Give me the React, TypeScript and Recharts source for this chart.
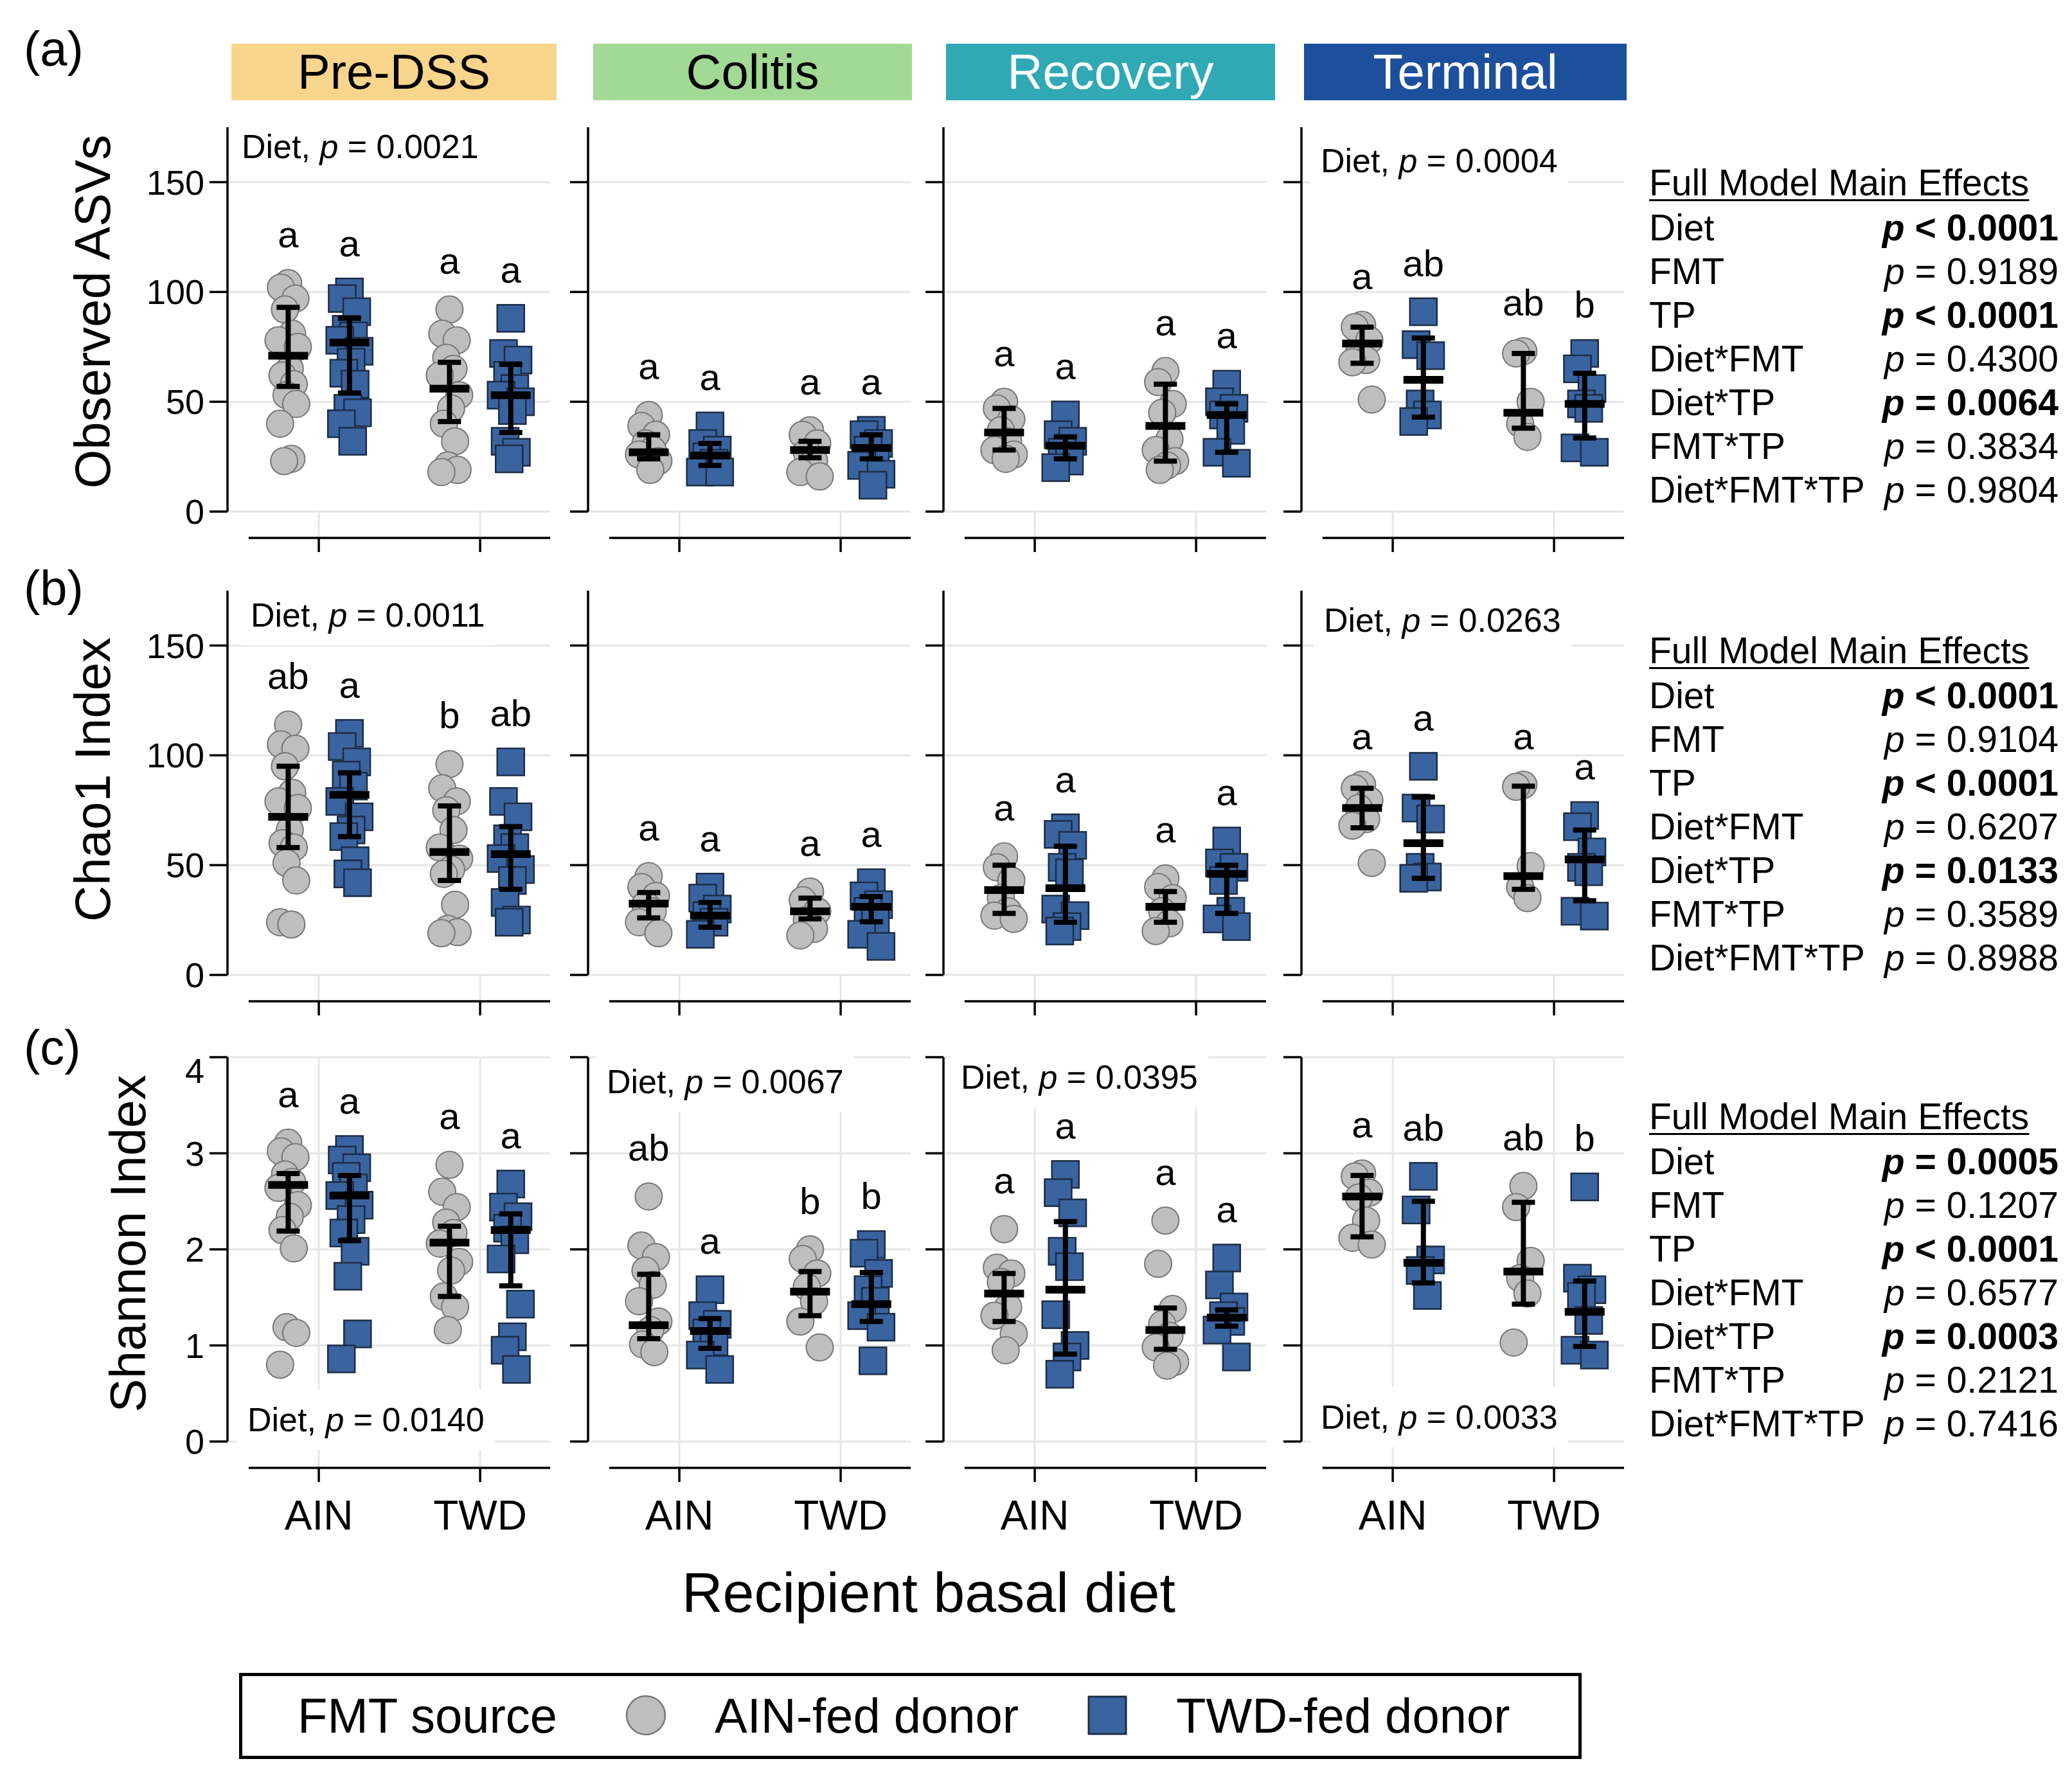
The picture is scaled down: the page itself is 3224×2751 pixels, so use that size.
import { ScatterChart, Scatter, XAxis, YAxis, CartesianGrid, ReferenceLine, ErrorBar } from 'recharts';

// ---------- values ----------
const PHASES = ['Pre-DSS', 'Colitis', 'Recovery', 'Terminal'];
const DIETS = ['AIN', 'TWD'];
// each panel holds 4 groups: AIN recipient / AIN-fed donor, AIN / TWD-fed, TWD / AIN-fed, TWD / TWD-fed

// Observed ASVs
const ASV_PRE = [
    [104, 102, 97, 92, 81, 78, 75, 65, 62, 58, 53, 49, 40, 24, 23],
    [100, 97, 91, 83, 80, 78, 73, 68, 63, 58, 47, 45, 40, 32],
    [92, 81, 78, 70, 65, 62, 53, 47, 40, 32, 21, 19, 18],
    [88, 72, 69, 62, 56, 53, 50, 46, 32, 27, 24],
];
const ASV_COLITIS = [
    [44, 39, 35, 31, 28, 26, 23, 19],
    [39, 31, 28, 25, 22, 18, 18],
    [37, 35, 31, 27, 23, 18, 16],
    [37, 35, 31, 28, 24, 21, 17, 12],
];
const ASV_RECOVERY = [
    [50, 47, 42, 37, 32, 28, 26, 24],
    [44, 35, 32, 27, 23, 20],
    [64, 59, 49, 45, 33, 28, 23, 21, 19],
    [58, 50, 47, 44, 37, 27, 22],
];
const ASV_TERMINAL = [
    [85, 84, 78, 72, 69, 68, 51],
    [91, 76, 71, 49, 44, 41],
    [73, 72, 50, 40, 34],
    [72, 65, 56, 49, 47, 29, 27],
];
// [mean, lower, upper]
const ASV_PRE_MSD = [[71, 57, 93], [77, 54, 88], [56, 41, 68], [53, 36, 67]];
const ASV_COLITIS_MSD = [[27, 24, 35], [25.5, 21, 31], [28, 24.5, 32], [29, 24, 35]];
const ASV_RECOVERY_MSD = [[36, 28, 47], [30, 24, 34], [39, 23, 58], [44, 27, 49]];
const ASV_TERMINAL_MSD = [[76.5, 67.5, 84], [60, 43, 79], [45, 38, 72], [49, 33.5, 63]];
const ASV_LETTERS = [['a', 'a', 'a', 'a'], ['a', 'a', 'a', 'a'], ['a', 'a', 'a', 'a'], ['a', 'ab', 'ab', 'b']];
const ASV_DIET_P = ['0.0021', null, null, '0.0004'];
const ASV_TICKS = [0, 50, 100, 150];

// Chao1 index
const CHAO_PRE = [
    [114, 105, 103, 95, 83, 79, 76, 66, 60, 58, 51, 43, 24, 23],
    [110, 104, 97, 91, 86, 79, 72, 66, 63, 52, 46, 42],
    [96, 85, 79, 75, 66, 58, 53, 48, 46, 32, 21, 19.5, 19],
    [97, 79, 72, 62, 58, 53, 48, 43, 33, 25, 24],
];
const CHAO_COLITIS = [
    [45, 40, 36, 32, 29, 24, 19],
    [40, 35, 30, 27, 24, 18.5],
    [38, 34, 29, 25, 21, 18],
    [42, 36, 32, 29, 24, 18.5, 13],
];
const CHAO_RECOVERY = [
    [54, 49, 43, 35, 29, 27, 25.5],
    [67, 64, 59, 49, 46.5, 30, 27, 22, 20],
    [44, 40, 35, 29, 23.5, 20],
    [61, 51, 49, 43, 29, 25.5, 22],
];
const CHAO_TERMINAL = [
    [86.6, 85, 79.5, 76, 71, 68, 51],
    [95, 76, 71, 49, 44.6, 44],
    [86.6, 85.7, 49.6, 40, 35],
    [72.6, 67.5, 56, 49, 47, 29, 26.8],
];
const CHAO_PRE_MSD = [[72, 58, 95], [82, 63, 92], [56, 43, 77], [55, 39, 67.5]];
const CHAO_COLITIS_MSD = [[32.5, 26, 37.5], [27, 21.7, 33], [29, 25.5, 35], [31, 24.2, 35.7]];
const CHAO_RECOVERY_MSD = [[38.6, 28, 50], [39.5, 24, 58.6], [31, 24, 38], [46, 28, 50]];
const CHAO_TERMINAL_MSD = [[76, 67, 85], [60, 44, 81], [45, 39, 86], [52.6, 33.8, 66]];
const CHAO_LETTERS = [['ab', 'a', 'b', 'ab'], ['a', 'a', 'a', 'a'], ['a', 'a', 'a', 'a'], ['a', 'a', 'a', 'a']];
const CHAO_DIET_P = ['0.0011', null, null, '0.0263'];

// Shannon index
const SHANNON_PRE = [
    [3.11, 3.02, 2.96, 2.78, 2.7, 2.64, 2.46, 2.34, 2.2, 2.01, 1.19, 1.13, 0.8],
    [3.04, 2.93, 2.85, 2.76, 2.64, 2.56, 2.46, 2.31, 2.17, 1.98, 1.72, 1.12, 0.86],
    [2.88, 2.6, 2.44, 2.28, 2.17, 2.06, 1.87, 1.78, 1.51, 1.4, 1.16],
    [2.68, 2.44, 2.34, 2.22, 2.1, 1.9, 1.43, 1.09, 0.95, 0.75],
];
const SHANNON_COLITIS = [
    [2.55, 2.04, 1.92, 1.78, 1.63, 1.46, 1.25, 1.16, 1.01, 0.93],
    [1.58, 1.31, 1.22, 1.13, 1.04, 0.9, 0.75],
    [2.0, 1.9, 1.75, 1.61, 1.46, 1.25, 0.98],
    [2.05, 1.96, 1.75, 1.58, 1.46, 1.31, 1.19, 0.84],
];
const SHANNON_RECOVERY = [
    [2.21, 1.81, 1.75, 1.66, 1.4, 1.31, 1.12, 0.95],
    [2.78, 2.59, 2.38, 1.98, 1.82, 1.32, 1.0, 0.88, 0.7],
    [2.3, 1.85, 1.38, 1.22, 1.1, 0.98, 0.83, 0.79],
    [1.91, 1.63, 1.4, 1.31, 1.25, 1.16, 0.88],
];
const SHANNON_TERMINAL = [
    [2.79, 2.76, 2.59, 2.54, 2.3, 2.12, 2.05],
    [2.76, 2.41, 1.89, 1.78, 1.52],
    [2.66, 2.44, 1.88, 1.7, 1.54, 1.03],
    [2.65, 1.7, 1.58, 1.51, 1.26, 0.95, 0.9],
];
const SHANNON_PRE_MSD = [[2.67, 2.19, 2.79], [2.56, 2.09, 2.77], [2.07, 1.51, 2.24], [2.2, 1.62, 2.37]];
const SHANNON_COLITIS_MSD = [[1.21, 1.07, 1.74], [1.15, 0.97, 1.28], [1.56, 1.31, 1.77], [1.43, 1.25, 1.76]];
const SHANNON_RECOVERY_MSD = [[1.54, 1.25, 1.75], [1.58, 0.91, 2.29], [1.16, 0.96, 1.39], [1.29, 1.2, 1.37]];
const SHANNON_TERMINAL_MSD = [[2.55, 2.13, 2.77], [1.86, 1.65, 2.5], [1.77, 1.43, 2.49], [1.35, 0.99, 1.67]];
const SHANNON_LETTERS = [['a', 'a', 'a', 'a'], ['ab', 'a', 'b', 'b'], ['a', 'a', 'a', 'a'], ['a', 'ab', 'ab', 'b']];
const SHANNON_DIET_P = ['0.0140', '0.0067', '0.0395', '0.0033'];
const SHANNON_TICKS = [0, 1, 2, 3, 4];

// full model main effects
const EFFECT_TERMS = ['Diet', 'FMT', 'TP', 'Diet*FMT', 'Diet*TP', 'FMT*TP', 'Diet*FMT*TP'];
const ASV_EFFECTS = ['< 0.0001', '= 0.9189', '< 0.0001', '= 0.4300', '= 0.0064', '= 0.3834', '= 0.9804'];
const CHAO_EFFECTS = ['< 0.0001', '= 0.9104', '< 0.0001', '= 0.6207', '= 0.0133', '= 0.3589', '= 0.8988'];
const SHANNON_EFFECTS = ['= 0.0005', '= 0.1207', '< 0.0001', '= 0.6577', '= 0.0003', '= 0.2121', '= 0.7416'];

const METRICS = [
    {
        title: 'Observed ASVs', label: '(a)', yMax: 175, ticks: ASV_TICKS,
        points: [ASV_PRE, ASV_COLITIS, ASV_RECOVERY, ASV_TERMINAL],
        msd: [ASV_PRE_MSD, ASV_COLITIS_MSD, ASV_RECOVERY_MSD, ASV_TERMINAL_MSD],
        letters: ASV_LETTERS, diet: ASV_DIET_P, effects: ASV_EFFECTS,
    },
    {
        title: 'Chao1 Index', label: '(b)', yMax: 175, ticks: ASV_TICKS,
        points: [CHAO_PRE, CHAO_COLITIS, CHAO_RECOVERY, CHAO_TERMINAL],
        msd: [CHAO_PRE_MSD, CHAO_COLITIS_MSD, CHAO_RECOVERY_MSD, CHAO_TERMINAL_MSD],
        letters: CHAO_LETTERS, diet: CHAO_DIET_P, effects: CHAO_EFFECTS,
    },
    {
        title: 'Shannon Index', label: '(c)', yMax: 4, ticks: SHANNON_TICKS,
        points: [SHANNON_PRE, SHANNON_COLITIS, SHANNON_RECOVERY, SHANNON_TERMINAL],
        msd: [SHANNON_PRE_MSD, SHANNON_COLITIS_MSD, SHANNON_RECOVERY_MSD, SHANNON_TERMINAL_MSD],
        letters: SHANNON_LETTERS, diet: SHANNON_DIET_P, effects: SHANNON_EFFECTS,
    },
];

// ---------- layout / style ----------
const FONT = '"Liberation Sans", Arial, Helvetica, sans-serif';
const GRAY = '#BEBEBE';
const GRAY_EDGE = '#777777';
const BLUE = '#3A64A0';
const BLUE_EDGE = '#1C2C46';
const GRID = '#E6E6E6';

const AXIS_X = [354, 915, 1468, 2025];
const PLOT_TOP = [198, 919, 1645];
const PLOT_H = 598;
const PLOT_W = 502;
const Y_AXIS_W = 150;
const X_DOMAIN: [number, number] = [0.434, 2.434];
const X_LINE_START = 0.565;
const GROUP_X = [0.81, 1.19, 1.81, 2.19];
const JITTER = [0, -0.045, 0.045, -0.02, 0.025, -0.06, 0.06, 0.01, -0.035, 0.035, -0.01, 0.05, -0.05, 0.02, -0.025];
const LETTER_GAP = 76;

const HEADER_X = [[360, 866], [923, 1419], [1472, 1984], [2029, 2531]];
const HEADER_FILL = ['#F8D58C', '#A2D995', '#30A9B4', '#1C4F9C'];
const HEADER_TEXT = ['#000', '#000', '#fff', '#fff'];

// Diet p note: [offset from y-axis, offset from plot top (+) or from zero line (-)]
const NOTE_SPOT = [
    [[22, 30], null, null, [30, 52]],
    [[36, 38], null, null, [35, 46]],
    [[31, -34], [29, 38], [27, 31], [30, -38]],
];
const TITLE_POS = [[144, 485], [144, 1213], [199, 1935]];
const LABEL_Y = [76, 915, 1630];
const TABLE_TOP = [284, 1012, 1737];

const circleShape = (p: any) => (
    <circle cx={p.cx} cy={p.cy} r={21} fill={GRAY} stroke={GRAY_EDGE} strokeWidth={2} />
);
const squareShape = (p: any) => (
    <rect x={p.cx - 21} y={p.cy - 21} width={42} height={42} fill={BLUE} stroke={BLUE_EDGE} strokeWidth={2.5} />
);
const meanShape = (p: any) => (
    <line x1={p.cx - 31} x2={p.cx + 31} y1={p.cy} y2={p.cy} stroke="#000" strokeWidth={12} />
);
const letterShape = (p: any) => (
    <text x={p.cx} y={p.cy} textAnchor="middle" dominantBaseline="central" fontSize={58} fontFamily={FONT} fill="#000">
        {p.payload?.label ?? p.label}
    </text>
);
const dietTick = (p: any) => (
    <text x={p.x} y={p.y + 115} textAnchor="middle" dominantBaseline="central" fontSize={64} fontFamily={FONT} fill="#000">
        {DIETS[p.index]}
    </text>
);

function Panel({ row, col }: { row: number; col: number }) {
    const m = METRICS[row];
    const groups = m.points[col];
    const msd = m.msd[col];
    const perPx = m.yMax / PLOT_H;
    const axisOff = 41 * perPx;
    const tickLen = 22 * perPx;
    const isBottom = row === 2;
    const xAxisH = isBottom ? 170 : 80;
    const w = Y_AXIS_W + PLOT_W + 10;
    const h = 10 + PLOT_H + xAxisH;
    const pos = { position: 'absolute' as const, left: AXIS_X[col] - Y_AXIS_W, top: PLOT_TOP[row] - 10 };

    const gray = [0, 2].flatMap((g) => groups[g].map((v, i) => ({ x: GROUP_X[g] + JITTER[i % JITTER.length], y: v })));
    const blue = [1, 3].flatMap((g) => groups[g].map((v, i) => ({ x: GROUP_X[g] + JITTER[i % JITTER.length], y: v })));
    const means = msd.map(([mean, lo, hi], g) => ({ x: GROUP_X[g], y: mean, err: [mean - lo, hi - mean] }));
    const letters = m.letters[col].map((t, g) => ({ x: GROUP_X[g], y: Math.max(...groups[g]) + LETTER_GAP * perPx, label: t }));

    return (
        <>
            <div style={pos}>
                <ScatterChart width={w} height={h} margin={{ top: 10, right: 10, bottom: 0, left: 0 }}>
                    <CartesianGrid stroke={GRID} strokeWidth={3} syncWithTicks />
                    <XAxis
                        type="number"
                        dataKey="x"
                        domain={X_DOMAIN}
                        ticks={[1, 2]}
                        allowDataOverflow
                        height={xAxisH}
                        axisLine={false}
                        tickLine={false}
                        tickSize={0}
                        tickMargin={0}
                        tick={isBottom ? dietTick : false}
                    />
                    <YAxis
                        type="number"
                        dataKey="y"
                        domain={[0, m.yMax]}
                        ticks={m.ticks}
                        allowDataOverflow
                        width={Y_AXIS_W}
                        tickSize={28}
                        tickMargin={8}
                        axisLine={{ stroke: '#000', strokeWidth: 3.5 }}
                        tickLine={{ stroke: '#000', strokeWidth: 3.5 }}
                        tick={{ fontSize: 54, fill: '#000', fontFamily: FONT }}
                        tickFormatter={col === 0 ? undefined : () => ''}
                    />
                    {[1, 2].map((x) => (
                        <ReferenceLine key={`g${x}`} segment={[{ x, y: -axisOff }, { x, y: 0 }]} stroke={GRID} strokeWidth={3} ifOverflow="visible" />
                    ))}
                    <ReferenceLine
                        segment={[{ x: X_LINE_START, y: -axisOff }, { x: X_DOMAIN[1], y: -axisOff }]}
                        stroke="#000"
                        strokeWidth={3.5}
                        ifOverflow="visible"
                    />
                    {[1, 2].map((x) => (
                        <ReferenceLine
                            key={`t${x}`}
                            segment={[{ x, y: -axisOff }, { x, y: -axisOff - tickLen }]}
                            stroke="#000"
                            strokeWidth={3.5}
                            ifOverflow="visible"
                        />
                    ))}
                    <Scatter data={gray} shape={circleShape} isAnimationActive={false} />
                    <Scatter data={blue} shape={squareShape} isAnimationActive={false} />
                </ScatterChart>
            </div>
            {/* mean ± SD and letters on a second layer with the same axes, so they sit above the points */}
            <div style={{ ...pos, pointerEvents: 'none' }}>
                <ScatterChart width={w} height={h} margin={{ top: 10, right: 10, bottom: xAxisH, left: Y_AXIS_W }}>
                    <XAxis type="number" dataKey="x" domain={X_DOMAIN} allowDataOverflow hide />
                    <YAxis type="number" dataKey="y" domain={[0, m.yMax]} allowDataOverflow hide />
                    <Scatter data={means} shape={meanShape} isAnimationActive={false}>
                        <ErrorBar dataKey="err" direction="y" width={18} strokeWidth={8} stroke="#000" isAnimationActive={false} />
                    </Scatter>
                    <Scatter data={letters} shape={letterShape} isAnimationActive={false} />
                </ScatterChart>
            </div>
        </>
    );
}

function DietNote({ row, col }: { row: number; col: number }) {
    const value = METRICS[row].diet[col];
    const spot = NOTE_SPOT[row][col];
    if (!value || !spot) return null;
    const cy = spot[1] > 0 ? PLOT_TOP[row] + spot[1] : PLOT_TOP[row] + PLOT_H + spot[1];
    return (
        <div
            style={{
                position: 'absolute',
                left: AXIS_X[col] + spot[0] - 16,
                top: cy - 47,
                height: 94,
                lineHeight: '94px',
                padding: '0 16px',
                background: '#fff',
                fontSize: 52,
                whiteSpace: 'nowrap',
            }}
        >
            Diet, <i>p</i> = {value}
        </div>
    );
}

function EffectsTable({ row }: { row: number }) {
    const top = TABLE_TOP[row];
    return (
        <>
            <div style={{ position: 'absolute', left: 2566, top: top - 40, height: 80, lineHeight: '80px', fontSize: 57, textDecoration: 'underline', textDecorationThickness: 3, textUnderlineOffset: 6, whiteSpace: 'nowrap' }}>
                Full Model Main Effects
            </div>
            {EFFECT_TERMS.map((term, i) => {
                const v = METRICS[row].effects[i];
                const bold = parseFloat(v.slice(2)) < 0.05;
                const cy = top + 70 + i * 68;
                return (
                    <div key={term}>
                        <div style={{ position: 'absolute', left: 2566, top: cy - 40, height: 80, lineHeight: '80px', fontSize: 57, whiteSpace: 'nowrap' }}>
                            {term}
                        </div>
                        <div style={{ position: 'absolute', right: 3224 - 3203, top: cy - 40, height: 80, lineHeight: '80px', fontSize: 57, fontWeight: bold ? 700 : 400, whiteSpace: 'nowrap' }}>
                            <i>p</i> {v}
                        </div>
                    </div>
                );
            })}
        </>
    );
}

export default function App() {
    return (
        <div style={{ position: 'absolute', left: 0, top: 0, width: 3224, height: 2751, background: '#fff', fontFamily: FONT, color: '#000', overflow: 'hidden' }}>
            {PHASES.map((p, i) => (
                <div
                    key={p}
                    style={{
                        position: 'absolute',
                        left: HEADER_X[i][0],
                        top: 68,
                        width: HEADER_X[i][1] - HEADER_X[i][0],
                        height: 88,
                        lineHeight: '88px',
                        background: HEADER_FILL[i],
                        color: HEADER_TEXT[i],
                        fontSize: 76,
                        textAlign: 'center',
                    }}
                >
                    {p}
                </div>
            ))}

            {METRICS.map((m, r) => (
                <div key={m.label}>
                    <div style={{ position: 'absolute', left: 37, top: LABEL_Y[r] - 45, height: 90, lineHeight: '90px', fontSize: 76 }}>{m.label}</div>
                    <div
                        style={{
                            position: 'absolute',
                            left: TITLE_POS[r][0],
                            top: TITLE_POS[r][1],
                            transform: 'translate(-50%, -50%) rotate(-90deg)',
                            fontSize: 78,
                            whiteSpace: 'nowrap',
                        }}
                    >
                        {m.title}
                    </div>
                    {PHASES.map((_, c) => (
                        <Panel key={c} row={r} col={c} />
                    ))}
                    {PHASES.map((_, c) => (
                        <DietNote key={`n${c}`} row={r} col={c} />
                    ))}
                    <EffectsTable row={r} />
                </div>
            ))}

            <div style={{ position: 'absolute', left: 1445, top: 2478, transform: 'translate(-50%, -50%)', fontSize: 88, whiteSpace: 'nowrap' }}>
                Recipient basal diet
            </div>

            <div style={{ position: 'absolute', left: 372, top: 2603, width: 2089, height: 134, border: '5px solid #000', boxSizing: 'border-box' }} />
            <div style={{ position: 'absolute', left: 463, top: 2669, transform: 'translateY(-50%)', fontSize: 76, whiteSpace: 'nowrap' }}>FMT source</div>
            <svg style={{ position: 'absolute', left: 1005 - 33, top: 2669 - 33 }} width={66} height={66}>
                <circle cx={33} cy={33} r={30} fill={GRAY} stroke={GRAY_EDGE} strokeWidth={2.5} />
            </svg>
            <div style={{ position: 'absolute', left: 1112, top: 2669, transform: 'translateY(-50%)', fontSize: 76, whiteSpace: 'nowrap' }}>AIN-fed donor</div>
            <svg style={{ position: 'absolute', left: 1723 - 31, top: 2669 - 31 }} width={62} height={62}>
                <rect x={2} y={2} width={58} height={58} fill={BLUE} stroke={BLUE_EDGE} strokeWidth={3} />
            </svg>
            <div style={{ position: 'absolute', left: 1830, top: 2669, transform: 'translateY(-50%)', fontSize: 76, whiteSpace: 'nowrap' }}>TWD-fed donor</div>
        </div>
    );
}
